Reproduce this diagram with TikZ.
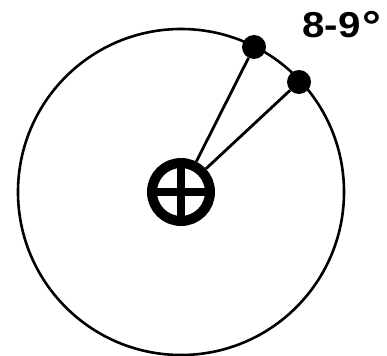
\documentclass[tikz,border=0pt]{standalone}
\usepackage{fontspec}
\setmainfont{Liberation Sans}
\usetikzlibrary{positioning}

\begin{document}
\begin{tikzpicture}[
    x=1pt, y=-1pt,
    rim/.style={line width=2.6pt},
    ray/.style={line width=2.8pt},
    starpt/.style={circle, fill=black, inner sep=0pt, minimum size=24pt},
    hubsym/.style={circle, draw, line width=10pt, inner sep=0pt, minimum size=58pt,
                   path picture={
                     \draw[line width=8pt] (path picture bounding box.north) -- (path picture bounding box.south);
                     \draw[line width=8pt] (path picture bounding box.west) -- (path picture bounding box.east);}},
    anglabel/.style={font=\fontsize{36}{40}\selectfont\bfseries, inner sep=0pt}
]
\useasboundingbox (0,0) rectangle (387,355);

% outer circle
\draw[rim] (181,192) circle (163);

% centre and the two points on the rim
\node[hubsym] (hub) at (181,192) {};
\node[starpt] (star1) at (254,47) {};
\node[starpt] (star2) at (299,82) {};

\draw[ray] (star1) -- (hub);
\draw[ray] (star2) -- (hub);

% separation
\node[anglabel, anchor=base west] (sep) at (302,38) {\scalebox{1.12}[1]{8-9\kern2pt{\fontsize{42}{42}\selectfont\raisebox{-3pt}{°}}}};

\end{tikzpicture}
\end{document}
